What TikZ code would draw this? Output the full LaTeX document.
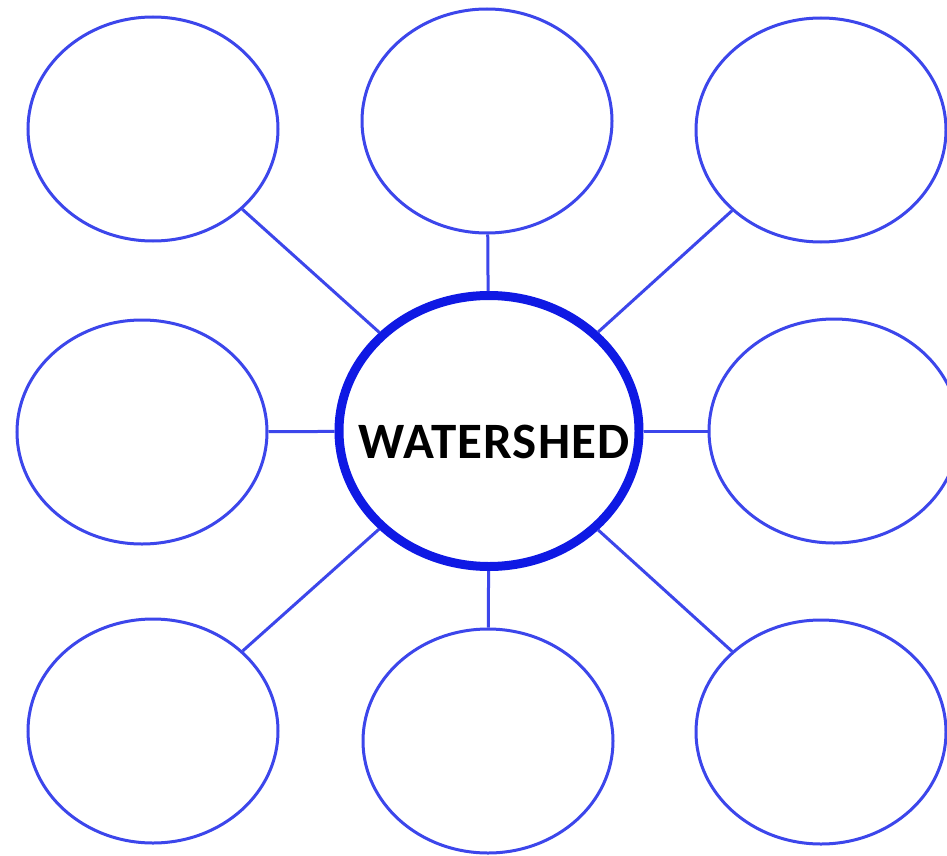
\documentclass[tikz,border=0pt]{standalone}
\usepackage{fontspec}
\setmainfont{Carlito}
\usetikzlibrary{shapes.geometric}
\definecolor{thinblue}{RGB}{60,70,235}
\definecolor{thickblue}{RGB}{15,25,228}
\tikzset{
  bubble/.style={ellipse, draw=thinblue, line width=3pt, minimum width=250pt, minimum height=224pt, inner sep=0pt},
  hub/.style={ellipse, draw=thickblue, line width=9pt, minimum width=300pt, minimum height=271pt, inner sep=0pt},
  spoke/.style={draw=thinblue, line width=3pt},
  title/.style={font=\fontsize{51}{57}\selectfont\bfseries, text=black, inner sep=0pt}
}
\begin{document}
\begin{tikzpicture}[x=1pt,y=-1pt]
\useasboundingbox[fill=white] (0,0) rectangle (947,856);
\node[bubble] (tl) at (153,129) {};
\node[bubble] (tm) at (487,121) {};
\node[bubble] (tr) at (821,130) {};
\node[bubble] (ml) at (142,432) {};
\node[bubble] (mr) at (834,431) {};
\node[bubble] (bl) at (153,731) {};
\node[bubble] (bm) at (488,741) {};
\node[bubble] (br) at (821,732) {};
\node[hub] (c) at (489,431) {};
\node[title] (t) at (494,442) {\addfontfeatures{LetterSpace=2}WATERSHED};
\foreach \n in {tl,tm,tr,ml,mr,bl,bm,br}{
  \path[spoke] (c) -- (\n);
}
\end{tikzpicture}
\end{document}
